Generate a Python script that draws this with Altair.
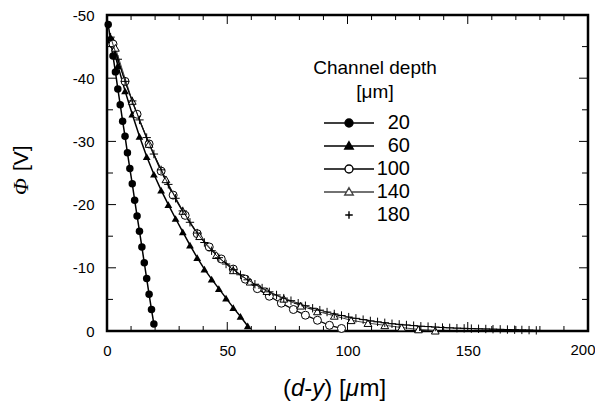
import altair as alt
import pandas as pd

W, H = 481, 316

depths = ["20", "60", "100", "140", "180"]

x20 = [0.5, 1.5, 2.5, 3.5, 4.5, 5.5, 6.5, 7.5, 8.5, 9.5,
       10.5, 11.5, 12.5, 13.5, 14.5, 15.5, 16.5, 17.5, 18.5, 19.5]
y20 = [-48.5, -46.0, -43.5, -41.0, -38.3, -35.8, -33.2, -30.8, -28.2, -25.7,
       -23.3, -20.7, -18.2, -15.8, -13.3, -10.8, -8.3, -5.8, -3.4, -1.1]

x60 = [1.5, 4.5, 7.5, 10.5, 13.5, 16.5, 19.5, 22.5, 25.5, 28.5,
       31.5, 34.5, 37.5, 40.5, 43.5, 46.5, 49.5, 52.5, 55.5, 58.5]
y60 = [-46.5, -42.0, -38.0, -34.3, -30.8, -27.6, -24.8, -22.3, -20.0, -17.8,
       -15.7, -13.6, -11.6, -9.8, -8.2, -6.7, -5.2, -3.7, -2.3, -0.8]

x100 = [2.5, 7.5, 12.5, 17.5, 22.5, 27.5, 32.5, 37.5, 42.5, 47.5,
        52.5, 57.5, 62.5, 67.5, 72.5, 77.5, 82.5, 87.5, 92.5, 97.5]
y100 = [-45.4, -39.5, -34.3, -29.6, -25.3, -21.5, -18.3, -15.4, -13.3, -11.4,
        -9.8, -8.2, -6.7, -5.5, -4.4, -3.4, -2.5, -1.7, -0.9, -0.4]

x140 = [3.5, 10.5, 17.5, 24.5, 31.5, 38.5, 45.5, 52.5, 59.5, 66.5,
        73.5, 80.5, 87.5, 94.5, 101.5, 108.5, 115.5, 122.5, 129.5, 136.5]
y140 = [-44.8, -36.4, -29.6, -24.0, -19.0, -15.0, -12.0, -9.6, -7.8, -6.3,
        -5.1, -4.0, -3.1, -2.4, -1.7, -1.25, -0.9, -0.55, -0.25, -0.05]

x180 = [1.5, 4.5, 7.5, 10.5, 13.5, 16.5, 19.5, 22.5, 25.5, 28.5,
        31.5, 34.5, 37.5, 40.5, 43.5, 46.5, 49.5, 52.5, 55.5, 58.5,
        61.5, 64.5, 67.5, 70.5, 73.5, 76.5, 79.5, 82.5, 85.5, 88.5,
        91.5, 94.5, 97.5, 100.5, 103.5, 106.5, 109.5, 112.5, 115.5, 118.5,
        121.5, 124.5, 127.5, 130.5, 133.5, 136.5, 139.5, 142.5, 145.5, 148.5,
        151.5, 154.5, 157.5, 160.5, 163.5, 166.5, 169.5, 172.5, 175.5, 178.5]
y180 = [-46.5, -43.0, -39.5, -36.4, -33.4, -30.6, -28.0, -25.5, -23.2, -21.0,
        -19.0, -17.2, -15.5, -14.0, -12.7, -11.6, -10.6, -9.7, -8.9, -8.1,
        -7.4, -6.8, -6.2, -5.7, -5.2, -4.8, -4.4, -4.0, -3.6, -3.3,
        -3.0, -2.7, -2.45, -2.2, -2.0, -1.8, -1.6, -1.45, -1.3, -1.15,
        -1.05, -0.95, -0.85, -0.75, -0.7, -0.62, -0.55, -0.5, -0.45, -0.42,
        -0.38, -0.35, -0.32, -0.29, -0.26, -0.23, -0.2, -0.17, -0.14, -0.1]

x_label_values = [0, 50, 100, 150]
x_last_label = [200]
y_label_values = [0, -10, -20, -30, -40, -50]
x_minor = [10, 20, 30, 40, 60, 70, 80, 90, 110, 120, 130, 140, 160, 170, 180, 190]
x_major = [50, 100, 150]
y_minor = [-5, -15, -25, -35, -45]
y_major = [-10, -20, -30, -40]

# axis titles, split so that the symbols can be italic
x_title_parts = ["(", "d", "-", "y", ") [", "μ", "m]"]
x_title_italic = [False, True, False, True, False, True, False]
x_title_em = [0.333, 0.556, 0.333, 0.5, 0.889, 0.576, 1.111]
y_title_parts = ["Φ", "[V]"]

series = {"20": (x20, y20), "60": (x60, y60), "100": (x100, y100),
          "140": (x140, y140), "180": (x180, y180)}
rows = []
for d, (xs_, ys_) in series.items():
    for a, b in zip(xs_, ys_):
        rows.append({"x": a, "phi": b, "depth": d})
df = pd.DataFrame(rows)

xs = alt.Scale(domain=[0, 200], nice=False, zero=False)
ys = alt.Scale(domain=[0, -50], nice=False, zero=False)

x_axis = alt.Axis(values=x_label_values, grid=False, ticks=False, tickSize=0, domain=False,
                  labelFontSize=15, labelPadding=12, labelColor="black", labelFlush=False,
                  title=None)
y_axis = alt.Axis(values=y_label_values, grid=False, ticks=False, tickSize=0, domain=False,
                  labelFontSize=15, labelPadding=13, labelColor="black", labelFlush=False,
                  labelExpr="'' + datum.value", title=None)

base = alt.Chart(df)

def X(field="x"):
    return alt.X(f"{field}:Q", scale=xs, axis=x_axis)

def Y(field="phi"):
    return alt.Y(f"{field}:Q", scale=ys, axis=y_axis)

layers = []

def ser(d):
    return base.transform_filter(alt.datum.depth == d)

# 20
layers.append(ser("20").mark_line(color="black", strokeWidth=1.5).encode(x=X(), y=Y()))
layers.append(ser("20").mark_point(shape="circle", filled=True, color="black", size=56, opacity=1).encode(x=X(), y=Y()))
# 60
layers.append(ser("60").mark_line(color="black", strokeWidth=1.5).encode(x=X(), y=Y()))
layers.append(ser("60").mark_point(shape="triangle-up", filled=True, color="black", size=60, opacity=1).encode(x=X(), y=Y()))
# 100
layers.append(ser("100").mark_line(color="black", strokeWidth=1.3).encode(x=X(), y=Y()))
layers.append(ser("100").mark_point(shape="circle", fill="white", stroke="black", strokeWidth=1, size=64, opacity=1, fillOpacity=1).encode(x=X(), y=Y()))
# 140
layers.append(ser("140").mark_line(color="#444444", strokeWidth=1).encode(x=X(), y=Y()))
layers.append(ser("140").mark_point(shape="triangle-up", fill="white", stroke="black", strokeWidth=1, size=60, opacity=1, fillOpacity=1).encode(x=X(), y=Y()))
# 180
layers.append(ser("180").mark_line(color="black", strokeWidth=0.8).encode(x=X(), y=Y()))
layers.append(ser("180").mark_point(shape="M-1,0L1,0M0,-1L0,1", stroke="black", strokeWidth=1, size=70, opacity=1).encode(x=X(), y=Y()))

# ticks (inward, all four sides)
def tick_layer(vals, side, length):
    t = alt.Chart(pd.DataFrame({"v": vals})).mark_rule(color="black", strokeWidth=1)
    if side == "bottom":
        return t.encode(x=X("v"), y=alt.value(H), y2=alt.value(H - length))
    if side == "top":
        return t.encode(x=X("v"), y=alt.value(0), y2=alt.value(length))
    if side == "left":
        return t.encode(y=Y("v"), x=alt.value(0), x2=alt.value(length))
    return t.encode(y=Y("v"), x=alt.value(W), x2=alt.value(W - length))

for side in ["bottom", "top"]:
    layers.append(tick_layer(x_minor, side, 5))
    layers.append(tick_layer(x_major, side, 9))
for side in ["left", "right"]:
    layers.append(tick_layer(y_minor, side, 6))
    layers.append(tick_layer(y_major, side, 9))

# last x label, nudged so that it stays inside the page
layers.append(
    alt.Chart(pd.DataFrame({"v": x_last_label})).mark_text(
        align="center", baseline="top", fontSize=15, color="black", dx=-5,
        font="Liberation Sans",
    ).encode(x=X("v"), y=alt.value(H + 12), text=alt.Text("v:Q"))
)

# x title pieces (pixel placement relative to plot origin)
XT_SIZE = 24
xt_start = 176
xt_base = 381
pos = xt_start
for txt, ital, em in zip(x_title_parts, x_title_italic, x_title_em):
    layers.append(
        alt.Chart(pd.DataFrame({"t": [txt]})).mark_text(
            align="left", baseline="alphabetic", fontSize=XT_SIZE, color="black",
            font="Liberation Sans", fontStyle="italic" if ital else "normal",
        ).encode(text="t:N", x=alt.value(pos), y=alt.value(xt_base))
    )
    pos += em * XT_SIZE

# y title pieces (rotated)
YT_SIZE = 21
yt_x = -79
layers.append(
    alt.Chart(pd.DataFrame({"t": [y_title_parts[0]]})).mark_text(
        align="left", baseline="alphabetic", angle=270, fontSize=YT_SIZE + 1, color="black",
        font="Liberation Serif", fontStyle="italic",
    ).encode(text="t:N", x=alt.value(yt_x), y=alt.value(180))
)
layers.append(
    alt.Chart(pd.DataFrame({"t": [y_title_parts[1]]})).mark_text(
        align="left", baseline="alphabetic", angle=270, fontSize=YT_SIZE, color="black",
        font="Liberation Sans",
    ).encode(text="t:N", x=alt.value(yt_x), y=alt.value(156))
)

# legend (drawn from scales only)
circ = "M0.8,0A0.8,0.8,0,1,1,-0.8,0A0.8,0.8,0,1,1,0.8,0Z"
tri = "M0,-0.85L0.85,0.6L-0.85,0.6Z"
legend_paths = [
    "M-5,0L5,0" + circ,
    "M-5,0L5,0" + tri,
    "M-5,0L-0.8,0M0.8,0L5,0" + circ,
    "M-5,0L-0.5,0M0.5,0L5,0" + tri,
    "M-0.75,0L0.75,0M0,-0.75L0,0.75",
]
legend_fill = ["black", "black", "white", "white", "transparent"]
legend_stroke = ["black", "black", "black", "#444444", "black"]

leg = alt.Legend(
    title=["Channel depth", "[μm]"], orient="none", legendX=206, legendY=44,
    titleFontSize=19, titleFontWeight="normal", titleColor="black",
    titleAlign="center", titleAnchor="middle", titleLineHeight=24, titlePadding=11,
    labelFontSize=20, labelColor="black", labelAlign="right", labelOffset=51,
    symbolSize=100, symbolStrokeWidth=1.4, rowPadding=3,
)
layers.append(
    base.transform_filter("datum.x < -1000").mark_point(filled=True, opacity=1).encode(
        x=X(), y=Y(),
        shape=alt.Shape("depth:N", scale=alt.Scale(domain=depths, range=legend_paths), legend=leg),
        fill=alt.Fill("depth:N", scale=alt.Scale(domain=depths, range=legend_fill), legend=leg),
        stroke=alt.Stroke("depth:N", scale=alt.Scale(domain=depths, range=legend_stroke), legend=leg),
    )
)

chart = alt.layer(*layers).properties(
    width=W, height=H,
    autosize=alt.AutoSizeParams(type="none"),
    padding={"left": 99, "top": 7, "right": 7, "bottom": 71},
).configure(font="Liberation Sans").configure_view(stroke="black", strokeWidth=2.5)

chart.save("out.html", embed_options={"renderer": "svg", "actions": False})
